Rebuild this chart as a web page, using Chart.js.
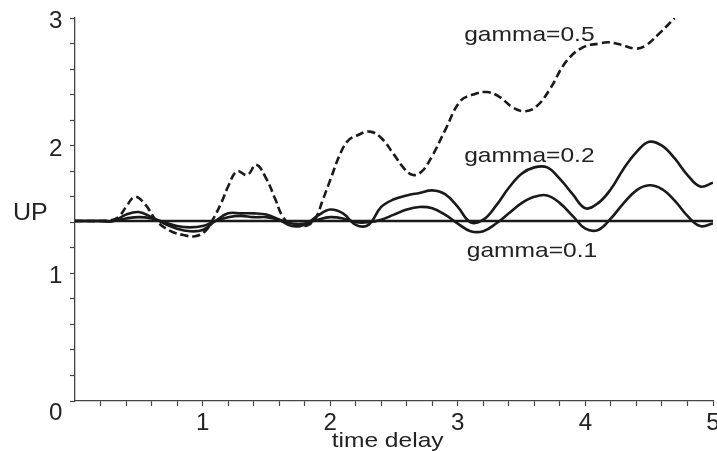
<!DOCTYPE html>
<html><head><meta charset="utf-8">
<script src="https://cdn.jsdelivr.net/npm/chart.js@4.4.1/dist/chart.umd.min.js"></script>
<style>html,body{margin:0;padding:0;background:#fff;overflow:hidden}</style>
</head><body>
<canvas id="c" width="717" height="451"></canvas>
<script>
// ---- data ----
const xTickValues = [1, 2, 3, 4, 5];
const xTickLabels = ['1', '2', '3', '4', '5'];
const yTickValues = [0, 1, 2, 3];
const yTickLabels = ['0', '1', '2', '3'];

const xTitle = 'time delay';
const yTitle = 'UP';
const seriesNames = ['gamma=0.5', 'gamma=0.2', 'gamma=0.1'];

// gamma = 0.5 (dashed)
const x05 = [0,0.1,0.2,0.3,0.35,0.4,0.47,0.55,0.64,0.75,0.85,0.94,1.02,1.08,1.15,1.2,1.27,1.35,1.42,1.5,1.57,1.63,1.7,1.76,1.83,1.89,1.94,2.0,2.08,2.14,2.21,2.31,2.4,2.5,2.58,2.65,2.72,2.8,2.9,3.02,3.12,3.23,3.33,3.43,3.53,3.62,3.72,3.85,3.98,4.11,4.18,4.28,4.40,4.48,4.58,4.70];
const y05 = [1.41,1.41,1.41,1.42,1.45,1.52,1.60,1.54,1.41,1.33,1.30,1.29,1.33,1.42,1.56,1.68,1.80,1.77,1.85,1.74,1.58,1.44,1.38,1.37,1.38,1.44,1.57,1.73,1.94,2.04,2.08,2.11,2.06,1.93,1.82,1.77,1.80,1.92,2.12,2.35,2.40,2.42,2.38,2.30,2.27,2.31,2.44,2.66,2.77,2.80,2.81,2.79,2.76,2.79,2.88,3.00];

// gamma = 0.2 and 0.1 (solid), sampled every 0.1
const xs = [0,0.1,0.2,0.3,0.4,0.5,0.6,0.7,0.8,0.9,1.0,1.1,1.2,1.3,1.4,1.5,1.6,1.7,1.8,1.9,2.0,2.1,2.2,2.3,2.4,2.5,2.6,2.7,2.8,2.9,3.0,3.1,3.2,3.3,3.4,3.5,3.6,3.7,3.8,3.9,4.0,4.1,4.2,4.3,4.4,4.5,4.6,4.7,4.8,4.9,5.0];
const y02 = [1.41,1.41,1.41,1.41,1.46,1.48,1.44,1.39,1.35,1.33,1.34,1.41,1.47,1.47,1.47,1.46,1.42,1.37,1.38,1.45,1.50,1.47,1.38,1.38,1.52,1.58,1.61,1.63,1.65,1.62,1.52,1.40,1.42,1.53,1.67,1.78,1.83,1.83,1.74,1.62,1.51,1.55,1.66,1.82,1.95,2.03,2.00,1.90,1.77,1.68,1.71];
const y01 = [1.41,1.41,1.41,1.41,1.43,1.44,1.43,1.40,1.37,1.36,1.37,1.41,1.44,1.45,1.44,1.44,1.42,1.39,1.39,1.42,1.44,1.43,1.40,1.40,1.42,1.46,1.50,1.52,1.51,1.46,1.39,1.33,1.33,1.39,1.47,1.55,1.60,1.61,1.55,1.45,1.35,1.34,1.43,1.55,1.65,1.69,1.66,1.57,1.45,1.37,1.39];

// reference level (no delay)
const xBase = [0, 5];
const yBase = [1.41, 1.41];

// label anchors (data coordinates)
const labelX = [3.05, 3.05, 3.07];
const labelY = [2.82, 1.87, 1.13];

// ---- chart ----
const pts = (xa, ya) => xa.map((v, i) => ({x: v, y: ya[i]}));
const AX = '#444';
const INK = '#1a1a1a';
const FONT = '"Liberation Sans", Arial, Helvetica, sans-serif';

const textPlugin = {
  id: 'texts',
  afterDraw(chart) {
    const {ctx, scales: {x, y}} = chart;
    function txt(s, px, py, align, size, sx) {
      ctx.save();
      ctx.translate(px, py);
      ctx.scale(sx, 1);
      ctx.font = size + 'px ' + FONT;
      ctx.fillStyle = '#222';
      ctx.textAlign = align;
      ctx.textBaseline = 'alphabetic';
      ctx.fillText(s, 0, 0);
      ctx.restore();
    }
    xTickValues.forEach((v, i) => txt(xTickLabels[i], x.getPixelForValue(v), x.top + 28.5, 'center', 23, 1.05));
    yTickValues.forEach((v, i) => {
      const py = y.getPixelForValue(v) + (v === 0 ? 19 : 10);
      txt(yTickLabels[i], y.right - 12.5, py, 'right', 23, 1.05);
    });
    txt(yTitle, 13, y.getPixelForValue(1.41) - 1, 'left', 23, 1.09);
    txt(xTitle, x.getPixelForValue(2.45), x.top + 46, 'center', 21, 1.17);
    seriesNames.forEach((n, i) => txt(n, x.getPixelForValue(labelX[i]), y.getPixelForValue(labelY[i]), 'left', 21, 1.17));
  }
};

const tickCol = c => (c.tick && c.tick.value === 0 ? 'rgba(0,0,0,0)' : AX);

new Chart(document.getElementById('c'), {
  type: 'line',
  data: {
    datasets: [
      {label: 'base', data: pts(xBase, yBase), borderColor: INK, borderWidth: 2.4, pointRadius: 0, tension: 0},
      {label: seriesNames[2], data: pts(xs, y01), borderColor: INK, borderWidth: 2.6, pointRadius: 0, tension: 0.4},
      {label: seriesNames[1], data: pts(xs, y02), borderColor: INK, borderWidth: 2.6, pointRadius: 0, tension: 0.4},
      {label: seriesNames[0], data: pts(x05, y05), borderColor: INK, borderWidth: 2.6, pointRadius: 0, tension: 0.4, borderDash: [8, 4]}
    ]
  },
  options: {
    responsive: false,
    animation: false,
    events: [],
    layout: {padding: {left: 0, top: 18, right: 4, bottom: 0}},
    plugins: {legend: {display: false}, tooltip: {enabled: false}},
    scales: {
      x: {
        type: 'linear', min: 0, max: 5,
        ticks: {display: false, stepSize: 0.2},
        grid: {drawOnChartArea: false, drawTicks: true, tickLength: 5, tickColor: tickCol, tickWidth: 1.2},
        border: {color: AX, width: 1.3},
        afterFit(s) { s.height = 50; s.paddingLeft = 0; s.paddingRight = 0; }
      },
      y: {
        type: 'linear', min: 0, max: 3,
        ticks: {display: false, stepSize: 0.2},
        grid: {drawOnChartArea: false, drawTicks: true, tickLength: 5, tickColor: AX, tickWidth: 1.2},
        border: {color: AX, width: 1.3},
        afterFit(s) { s.width = 75; s.paddingTop = 0; s.paddingBottom = 0; }
      }
    }
  },
  plugins: [textPlugin]
});
</script>
</body></html>
